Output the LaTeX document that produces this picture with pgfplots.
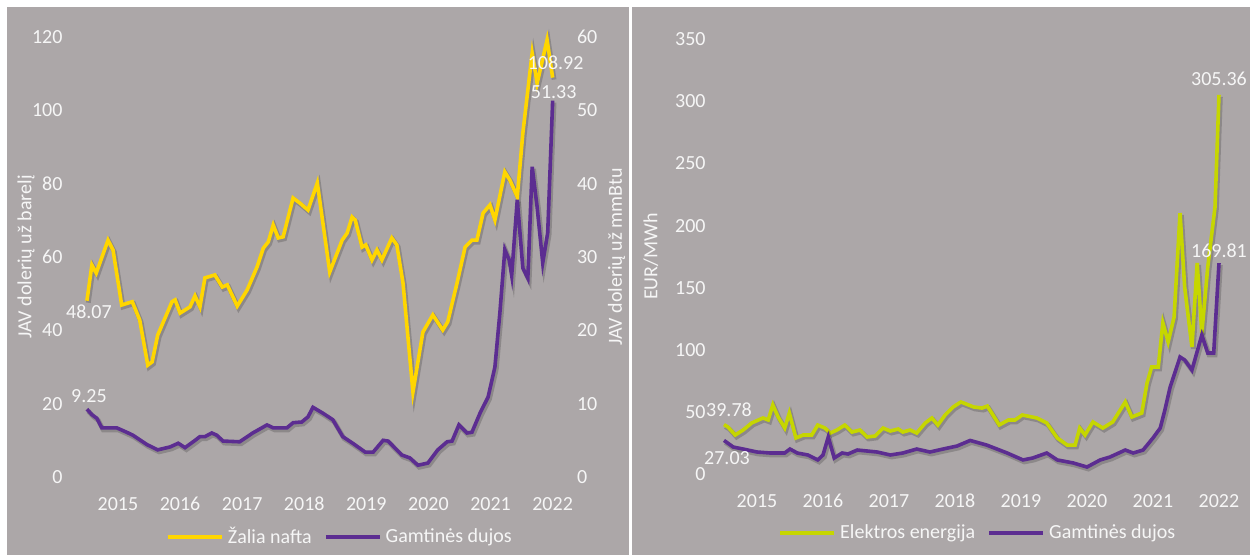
\documentclass[border=0pt]{standalone}
\usepackage{fontspec}
\setmainfont{Carlito}
\usepackage{pgfplots}
\usepackage{pgfplotstable}
\pgfplotsset{compat=1.18}

\definecolor{bg}{RGB}{172,167,168}
\definecolor{oil}{RGB}{255,214,0}
\definecolor{gas}{RGB}{92,45,145}
\definecolor{elec}{RGB}{198,214,0}
\definecolor{txt}{RGB}{246,246,246}

% monthly series, x = decimal year
\pgfplotstableread{
x y
2015.00 48.07
2015.08 57.8
2015.15 55.6
2015.34 64.6
2015.42 61.9
2015.56 46.9
2015.73 47.8
2015.85 42.8
2015.98 30.5
2016.05 31.4
2016.14 38.7
2016.37 47.8
2016.42 48.3
2016.50 44.7
2016.66 46.4
2016.74 49.4
2016.82 46.4
2016.90 54.3
2017.06 55.1
2017.18 51.8
2017.26 52.4
2017.42 46.6
2017.58 51.0
2017.74 57.3
2017.84 62.4
2017.92 64.1
2018.00 68.7
2018.08 65.2
2018.16 65.5
2018.32 76.1
2018.43 74.7
2018.56 72.8
2018.71 80.2
2018.91 55.9
2019.11 64.6
2019.19 66.5
2019.27 70.9
2019.32 70.1
2019.43 62.7
2019.49 63.3
2019.59 59.2
2019.67 61.9
2019.75 59.2
2019.91 65.2
2019.99 63.3
2020.09 52.9
2020.25 23.2
2020.41 39.5
2020.57 44.2
2020.73 40.1
2020.81 42.3
2020.96 52.9
2021.09 62.7
2021.20 64.6
2021.28 64.6
2021.38 72.0
2021.49 74.2
2021.57 70.1
2021.73 83.2
2021.81 81.0
2021.93 76.4
2022.02 93.8
2022.17 115.6
2022.25 107.4
2022.41 119.2
2022.50 108.92
}\oil

\pgfplotstableread{
x y
2015.00 9.25
2015.08 8.5
2015.16 8.0
2015.24 6.7
2015.48 6.7
2015.64 6.1
2015.74 5.7
2015.97 4.4
2016.14 3.7
2016.34 4.1
2016.47 4.6
2016.58 4.0
2016.71 4.8
2016.82 5.5
2016.90 5.5
2017.01 6.0
2017.09 5.7
2017.19 4.9
2017.46 4.8
2017.67 6.0
2017.90 7.1
2018.00 6.7
2018.22 6.7
2018.32 7.4
2018.46 7.5
2018.56 8.2
2018.64 9.5
2018.80 8.7
2018.96 7.8
2019.12 5.5
2019.28 4.6
2019.48 3.4
2019.61 3.4
2019.77 5.0
2019.85 4.9
2020.07 3.0
2020.20 2.6
2020.33 1.6
2020.49 1.9
2020.65 3.7
2020.80 4.8
2020.88 4.9
2020.99 7.1
2021.12 6.0
2021.20 6.1
2021.33 8.7
2021.46 10.9
2021.57 15.0
2021.65 22.4
2021.73 31.0
2021.80 29.6
2021.84 27.5
2021.93 37.8
2022.02 28.5
2022.10 27.1
2022.17 42.3
2022.25 36.8
2022.34 29.2
2022.42 33.3
2022.50 51.33
}\gasusd

\pgfplotstableread{
x y
2015.00 39.78
2015.06 37.8
2015.17 31.4
2015.29 35.4
2015.42 41.1
2015.59 45.1
2015.67 43.5
2015.74 55.6
2015.82 45.9
2015.92 37.0
2015.99 49.1
2016.09 29.0
2016.20 31.4
2016.33 31.4
2016.42 39.4
2016.53 37.0
2016.61 33.0
2016.71 35.4
2016.83 39.4
2016.94 33.8
2017.06 35.4
2017.17 29.8
2017.29 30.6
2017.41 37.0
2017.52 34.6
2017.64 36.2
2017.71 33.8
2017.82 35.4
2017.92 33.0
2018.05 41.1
2018.15 45.1
2018.24 39.4
2018.35 47.5
2018.47 53.9
2018.59 58.0
2018.78 54.0
2018.91 53.1
2018.99 54.7
2019.17 39.5
2019.31 43.5
2019.41 43.5
2019.52 47.5
2019.74 45.1
2019.89 41.1
2020.05 29.0
2020.20 23.3
2020.32 23.3
2020.39 37.0
2020.47 31.4
2020.59 41.9
2020.74 37.0
2020.89 41.9
2021.08 58.0
2021.18 45.9
2021.33 49.1
2021.41 73.3
2021.48 86.2
2021.58 86.2
2021.65 121.6
2021.73 106.3
2021.82 126.4
2021.91 210.1
2021.98 150.6
2022.09 102.3
2022.17 169.9
2022.24 113.5
2022.33 166.7
2022.44 215.0
2022.50 305.36
}\elec

\pgfplotstableread{
x y
2015.00 27.03
2015.14 21.7
2015.29 20.1
2015.50 17.7
2015.70 16.9
2015.92 16.9
2016.00 20.1
2016.11 16.9
2016.27 15.3
2016.42 11.3
2016.50 15.3
2016.58 29.8
2016.67 12.9
2016.79 16.9
2016.88 16.1
2017.02 19.3
2017.17 18.5
2017.32 17.7
2017.52 15.3
2017.71 16.9
2017.92 20.1
2018.12 17.7
2018.32 20.1
2018.53 22.5
2018.73 27.0
2018.98 23.3
2019.29 16.9
2019.53 11.3
2019.68 12.9
2019.89 16.9
2020.05 11.3
2020.29 8.9
2020.50 5.6
2020.70 11.3
2020.85 13.7
2021.08 19.3
2021.20 16.9
2021.35 19.3
2021.50 29.0
2021.61 37.0
2021.68 51.5
2021.76 70.0
2021.91 94.2
2021.98 91.8
2022.09 83.7
2022.24 111.9
2022.33 97.4
2022.42 97.4
2022.50 169.81
}\gaseur

\tikzset{
  lbl/.style={font=\fontsize{10}{12}\selectfont, text=txt, inner sep=0pt, anchor=center},
}
\pgfplotsset{
  panel/.style={
    scale only axis, clip=false,
    axis line style={draw=none}, major tick length=0pt,
    tick label style={font=\fontsize{10}{12}\selectfont, text=txt},
    /pgf/number format/assume math mode=true,
    xtick={2015.5,2016.5,...,2022.5},
    xticklabels={2015,2016,2017,2018,2019,2020,2021,2022},
    xticklabel style={anchor=base, yshift=-17pt},
    yticklabel style={inner sep=0pt},
    legend style={draw=none, fill=none, anchor=center, legend columns=-1,
      font=\fontsize{10}{12}\selectfont, text=txt, inner sep=0pt,
      /tikz/every even column/.append style={column sep=4pt}},
    legend image code/.code={\draw[line width=2pt] (0pt,0pt) -- (27pt,0pt);},
  },
  ylab/.style={every axis y label/.style={at={(axis description cs:#1,0.5)},
    rotate=90, anchor=center, font=\fontsize{10}{12}\selectfont, text=txt}},
  line/.style={line width=1.8pt, #1},
  shadow/.style={forget plot, draw=black, opacity=0.18, line width=2.4pt,
    xshift=0.7pt, yshift=-1pt},
}

\begin{document}
\begin{tikzpicture}
\fill[white] (0,0) rectangle (625pt,277.5pt);
\fill[bg] (3.5pt,0) rectangle (314.5pt,274pt);
\fill[bg] (316pt,0) rectangle (625pt,274pt);
\path[use as bounding box] (0,0) rectangle (625pt,277.5pt);

% left panel: oil, USD/barrel
\begin{axis}[panel,
  at={(34.15pt,39pt)}, anchor=south west,
  width=251.5pt, height=220pt,
  xmin=2014.7, xmax=2022.8, ymin=0, ymax=120,
  ytick={0,20,...,120},
  yticklabel style={anchor=east, xshift=-2.7pt},
  ylabel={JAV dolerių už barelį}, ylab=-0.084,
]
\addplot[shadow] table[x=x,y=y]{\oil};
\addplot[line=oil] table[x=x,y=y]{\oil}
  node[pos=0, lbl, xshift=1pt, yshift=-5.5pt] {48.07}
  node[pos=1, lbl, xshift=1.5pt, yshift=7.5pt] {108.92};
\end{axis}

% left panel: gas, USD/mmBtu
\begin{axis}[panel,
  at={(34.15pt,39pt)}, anchor=south west,
  width=251.5pt, height=220pt,
  xmin=2014.7, xmax=2022.8, ymin=0, ymax=60,
  xtick=\empty,
  ytick={0,10,...,60}, ytick pos=right, yticklabel pos=right,
  yticklabel style={anchor=west, xshift=2.7pt},
  ylabel={JAV dolerių už mmBtu}, ylab=1.090,
  legend style={at={(0.542,-0.136)}},
]
\addlegendimage{oil}
\addlegendentry{Žalia nafta}
\addplot[shadow] table[x=x,y=y]{\gasusd};
\addplot[line=gas] table[x=x,y=y]{\gasusd}
  node[pos=0, lbl, xshift=1pt, yshift=6.5pt] {9.25}
  node[pos=1, lbl, xshift=0.5pt, yshift=4pt] {51.33};
\addlegendentry{Gamtinės dujos}
\end{axis}

% right panel: EUR/MWh
\begin{axis}[panel,
  at={(355.4pt,40.5pt)}, anchor=south west,
  width=260.7pt, height=217.3pt,
  xmin=2014.8, xmax=2022.7, ymin=0, ymax=350,
  ytick={0,50,...,350},
  yticklabel style={anchor=east, xshift=-2.4pt},
  ylabel={EUR/MWh}, ylab=-0.115,
  legend style={at={(0.514,-0.136)}},
]
\addplot[shadow] table[x=x,y=y]{\elec};
\addplot[line=elec] table[x=x,y=y]{\elec}
  node[pos=0, lbl, xshift=2.5pt, yshift=7.5pt] {39.78}
  node[pos=1, lbl, yshift=8pt] {305.36};
\addlegendentry{Elektros energija}
\addplot[shadow] table[x=x,y=y]{\gaseur};
\addplot[line=gas] table[x=x,y=y]{\gaseur}
  node[pos=0, lbl, xshift=1.5pt, yshift=-9pt] {27.03}
  node[pos=1, lbl, yshift=6pt] {169.81};
\addlegendentry{Gamtinės dujos}
\end{axis}
\end{tikzpicture}
\end{document}
